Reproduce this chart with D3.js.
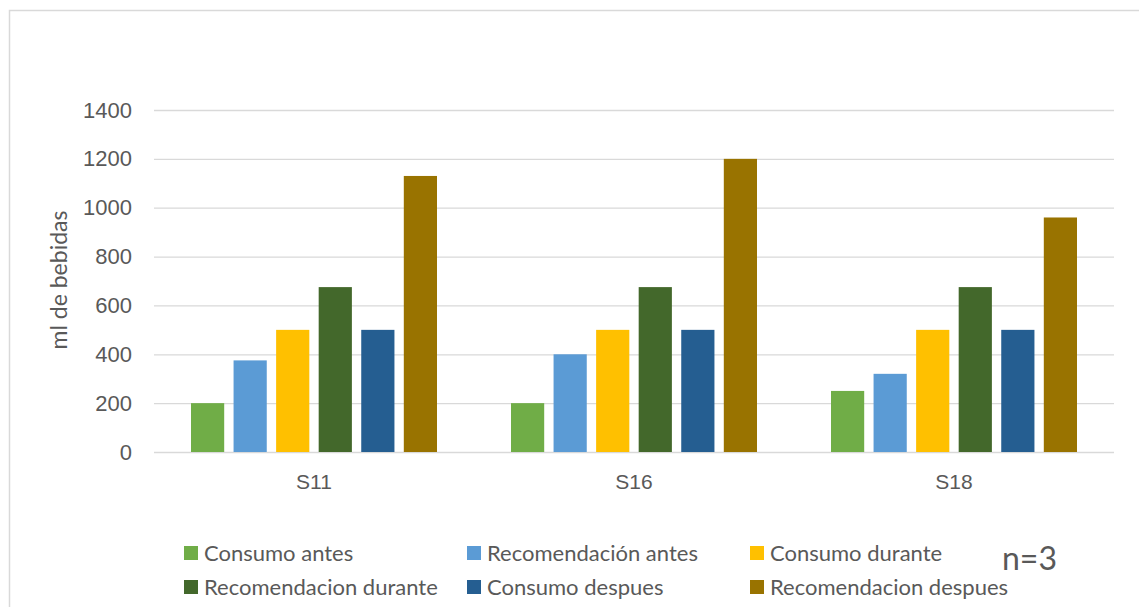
<!DOCTYPE html>
<html>
<head>
<meta charset="utf-8">
<script src="https://cdn.jsdelivr.net/npm/d3@7"></script>
<style>
  body { margin: 0; background: #fff; }
  svg { display: block; font-family: Lato, "Open Sans", sans-serif; }
</style>
</head>
<body>
<svg id="chart" width="1139" height="607"></svg>
<script>
var categories = ['S11', 'S16', 'S18']
var seriesNames = ['Consumo antes', 'Recomendación antes', 'Consumo durante',
                   'Recomendacion durante', 'Consumo despues', 'Recomendacion despues']
var seriesColors = ['#70ad47', '#5b9bd5', '#ffc000', '#43682b', '#255e91', '#997300']
var consumoAntes = [200, 200, 250]
var recomendacionAntes = [375, 400, 320]
var consumoDurante = [500, 500, 500]
var recomendacionDurante = [675, 675, 675]
var consumoDespues = [500, 500, 500]
var recomendacionDespues = [1130, 1200, 960]
var yTicks = [0, 200, 400, 600, 800, 1000, 1200, 1400]

var seriesValues = [consumoAntes, recomendacionAntes, consumoDurante,
                    recomendacionDurante, consumoDespues, recomendacionDespues]

var svg = d3.select('#chart'),
    plot = {left: 154, right: 1114, top: 110, bottom: 452},
    textColor = '#595959',
    gridColor = '#d9d9d9'

// chart frame (runs off the picture on the right and bottom)
svg.append('rect')
    .attr('x', 9.5).attr('y', 10.5)
    .attr('width', 1160).attr('height', 620)
    .attr('fill', 'none')
    .attr('stroke', gridColor)
    .attr('stroke-width', 1.5)

var x0 = d3.scaleBand()
    .domain(categories)
    .range([plot.left, plot.right])

var x1 = d3.scaleBand()
    .domain(seriesNames)
    .range([x0.bandwidth() / 2 - 123, x0.bandwidth() / 2 + 123])
    .paddingInner(0.22)

var y = d3.scaleLinear()
    .domain([0, 1400])
    .range([plot.bottom, plot.top])

// gridlines + y labels
var yAxis = d3.axisLeft(y)
    .tickValues(yTicks)
    .tickSize(-(plot.right - plot.left))
    .tickPadding(22)
    .tickFormat(d3.format('d'))

svg.append('g')
    .attr('transform', 'translate(' + plot.left + ',0)')
    .call(yAxis)
    .call(function(g) {
        g.select('.domain').remove()
        g.selectAll('.tick line').attr('stroke', gridColor).attr('stroke-width', 1.3)
        g.selectAll('.tick text')
            .attr('fill', textColor)
            .style('font-size', '22px')
    })

// bars
var groups = svg.append('g').selectAll('g')
    .data(categories)
    .join('g')
    .attr('transform', function(d) { return 'translate(' + x0(d) + ',0)' })

groups.selectAll('rect')
    .data(function(d, i) {
        return seriesNames.map(function(s, j) { return {series: s, value: seriesValues[j][i], color: seriesColors[j]} })
    })
    .join('rect')
    .attr('x', function(d) { return x1(d.series) })
    .attr('y', function(d) { return y(d.value) })
    .attr('width', x1.bandwidth())
    .attr('height', function(d) { return y(0) - y(d.value) })
    .attr('fill', function(d) { return d.color })

// category labels
var xAxis = d3.axisBottom(x0).tickSize(0).tickPadding(22)
svg.append('g')
    .attr('transform', 'translate(0,' + plot.bottom + ')')
    .call(xAxis)
    .call(function(g) {
        g.select('.domain').remove()
        g.selectAll('.tick text')
            .attr('fill', textColor)
            .style('font-size', '21px')
    })

// y title
svg.append('text')
    .attr('transform', 'translate(67,280) rotate(-90)')
    .attr('text-anchor', 'middle')
    .attr('fill', textColor)
    .style('font-size', '23px')
    .text('ml de bebidas')

// legend
var legendCols = [184, 467, 750],
    legendRows = [553, 587]

var legend = svg.append('g').selectAll('g')
    .data(seriesNames)
    .join('g')
    .attr('transform', function(d, i) {
        return 'translate(' + legendCols[i % 3] + ',' + legendRows[Math.floor(i / 3)] + ')'
    })

legend.append('rect')
    .attr('x', 0).attr('y', -7)
    .attr('width', 14).attr('height', 14)
    .attr('fill', function(d, i) { return seriesColors[i] })

legend.append('text')
    .attr('x', 20)
    .attr('dy', '0.35em')
    .attr('fill', textColor)
    .style('font-size', '22px')
    .text(function(d) { return d })

svg.append('text')
    .attr('x', 1002).attr('y', 570)
    .attr('fill', textColor)
    .style('font-size', '32px')
    .text('n=3')
</script>
</body>
</html>
